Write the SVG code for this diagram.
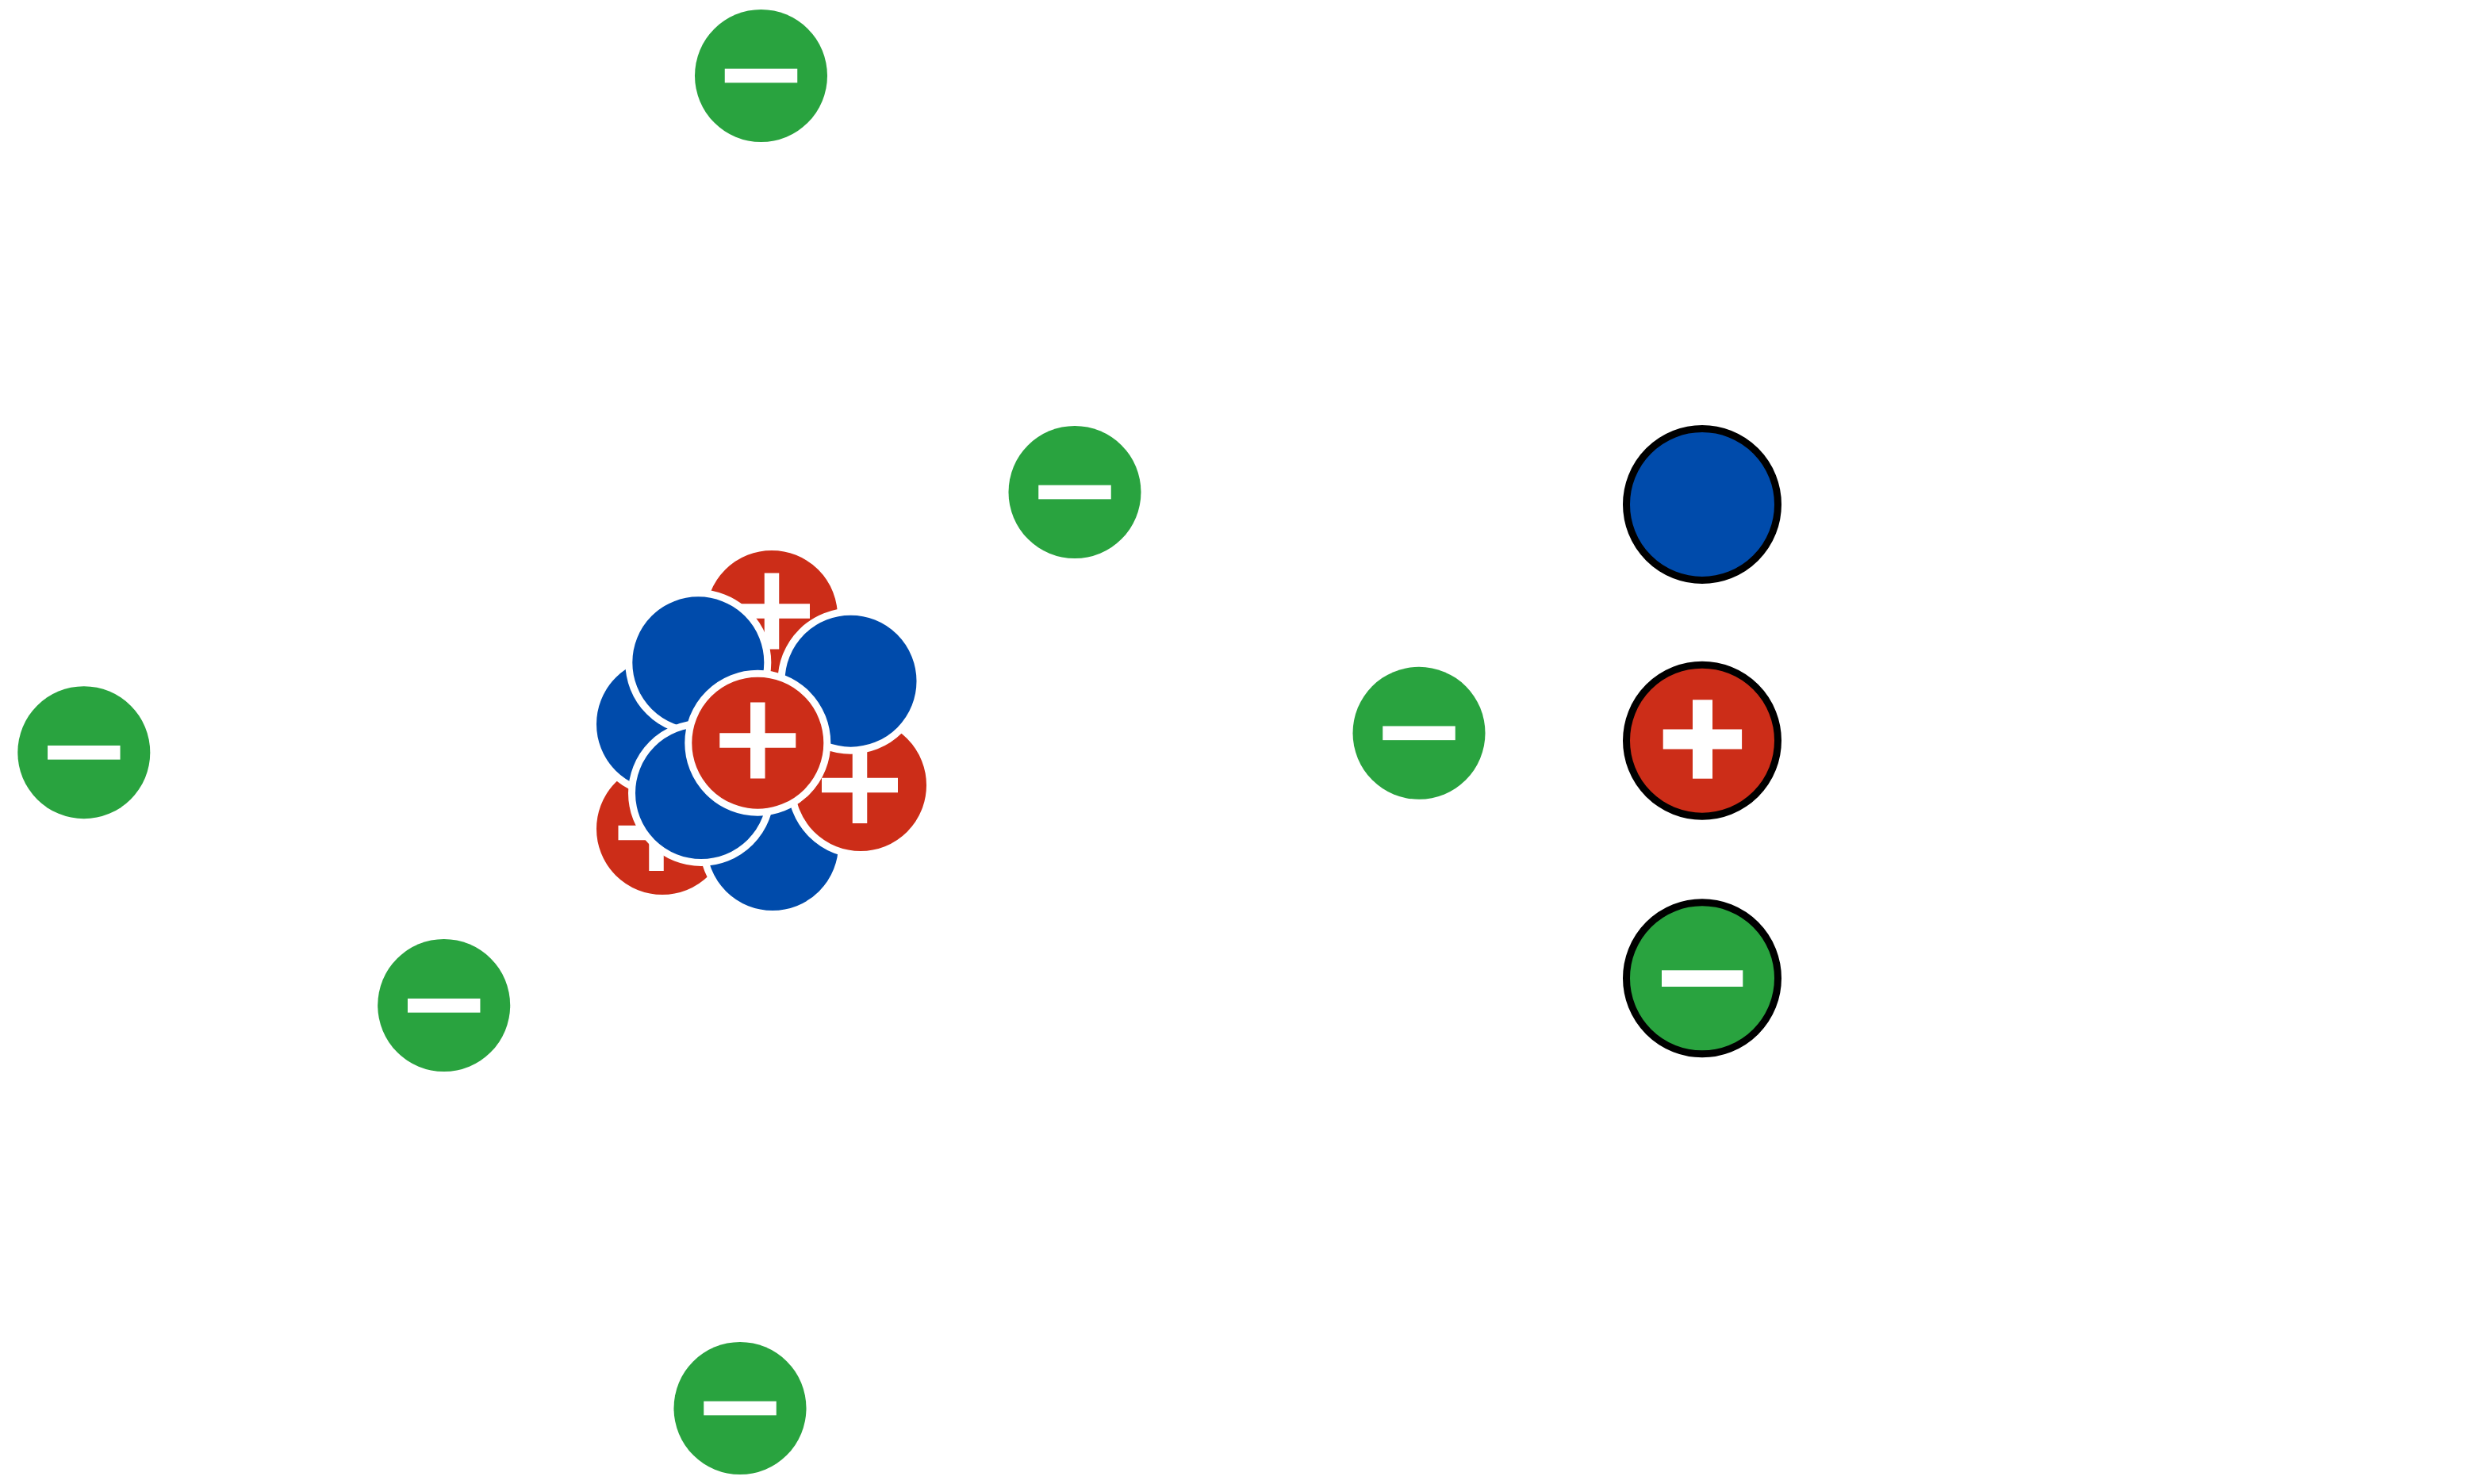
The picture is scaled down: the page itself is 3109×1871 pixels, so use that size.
<svg xmlns="http://www.w3.org/2000/svg" xmlns:xlink="http://www.w3.org/1999/xlink" width="3109" height="1871" viewBox="0 0 3109 1871">
  <style>
    .bg { fill: #ffffff; }
    .electron { fill: #29A33F; }
    .proton { fill: #CC2D18; }
    .neutron { fill: #004BAB; }
    .nuc { stroke: #ffffff; stroke-width: 9; }
    .legend { stroke: #000000; stroke-width: 9; }
    .mark { fill: #ffffff; }
  </style>
  <defs>
    <path id="plus" d="M-9.25,-48h18.5v38.75h38.75v18.5h-38.75v38.75h-18.5v-38.75h-38.75v-18.5h38.75z"/>
    <rect id="minus" x="-45.75" y="-8.85" width="91.5" height="17.7"/>
  </defs>
  <rect class="bg" x="0" y="0" width="3109" height="1871"/>

  <g id="connectors"/>

  <g id="nucleus">
    <g id="proton-top">
      <circle class="proton nuc" cx="973" cy="777" r="87.5"/>
      <use class="mark" xlink:href="#plus" href="#plus" transform="translate(973,770.5)"/>
    </g>
    <g id="proton-bottom-left">
      <circle class="proton nuc" cx="835" cy="1045" r="87.5"/>
      <use class="mark" xlink:href="#plus" href="#plus" transform="translate(827.5,1050)"/>
    </g>
    <g id="neutron-left">
      <circle class="neutron nuc" cx="835" cy="913" r="87.5"/>
    </g>
    <g id="neutron-bottom">
      <circle class="neutron nuc" cx="974" cy="1065" r="87.5"/>
    </g>
    <g id="proton-right">
      <circle class="proton nuc" cx="1085" cy="990" r="87.5"/>
      <use class="mark" xlink:href="#plus" href="#plus" transform="translate(1084,990)"/>
    </g>
    <g id="neutron-top-left">
      <circle class="neutron nuc" cx="880.3" cy="835.3" r="87.5"/>
    </g>
    <g id="neutron-top-right">
      <circle class="neutron nuc" cx="1072.5" cy="858.7" r="87.5"/>
    </g>
    <g id="neutron-bottom-left">
      <circle class="neutron nuc" cx="884" cy="1000" r="87.5"/>
    </g>
    <g id="proton-center">
      <circle class="proton nuc" cx="955.3" cy="936.7" r="87.5"/>
      <use class="mark" xlink:href="#plus" href="#plus" transform="translate(955.3,933.5)"/>
    </g>
  </g>

  <g id="electron-top">
    <circle class="electron" cx="959.5" cy="95.5" r="83.5"/>
    <use class="mark" xlink:href="#minus" href="#minus" transform="translate(959.5,95.5)"/>
  </g>
  <g id="electron-upper-right">
    <circle class="electron" cx="1355" cy="620.5" r="83.5"/>
    <use class="mark" xlink:href="#minus" href="#minus" transform="translate(1355,620.5)"/>
  </g>
  <g id="electron-left">
    <circle class="electron" cx="105.8" cy="948.7" r="83.5"/>
    <use class="mark" xlink:href="#minus" href="#minus" transform="translate(105.8,948.8)"/>
  </g>
  <g id="electron-lower-left">
    <circle class="electron" cx="559.7" cy="1267.5" r="83.5"/>
    <use class="mark" xlink:href="#minus" href="#minus" transform="translate(559.7,1267.8)"/>
  </g>
  <g id="electron-bottom">
    <circle class="electron" cx="933" cy="1775.5" r="83.5"/>
    <use class="mark" xlink:href="#minus" href="#minus" transform="translate(933,1775.5)"/>
  </g>
  <g id="electron-right">
    <circle class="electron" cx="1789" cy="924.3" r="83.5"/>
    <use class="mark" xlink:href="#minus" href="#minus" transform="translate(1789,924.3)"/>
  </g>

  <g id="legend-neutron">
    <circle class="neutron legend" cx="2146" cy="636" r="95.5"/>
  </g>
  <g id="legend-proton">
    <circle class="proton legend" cx="2146" cy="933.7" r="95.5"/>
    <rect class="mark" x="2096.7" y="919.5" width="99.4" height="25"/>
    <rect class="mark" x="2134" y="882.3" width="25" height="99.4"/>
  </g>
  <g id="legend-electron">
    <circle class="electron legend" cx="2146" cy="1233.3" r="95.5"/>
    <rect class="mark" x="2095" y="1223.3" width="102.3" height="20.7"/>
  </g>
</svg>
